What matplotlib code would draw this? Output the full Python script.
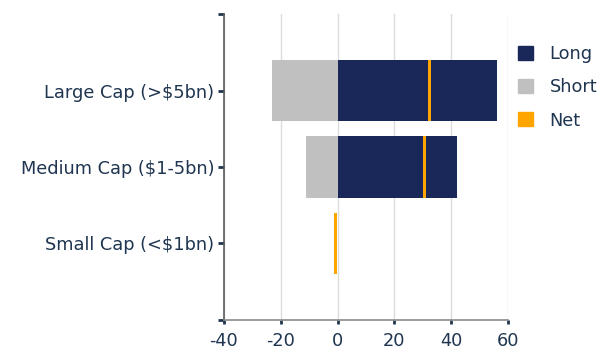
import matplotlib
matplotlib.use("Agg")
import matplotlib.pyplot as plt
from matplotlib.patches import Patch

categories = ["Large Cap (>$5bn)", "Medium Cap ($1-5bn)", "Small Cap (<$1bn)"]
long_vals = [56, 42, 0]
short_vals = [-23, -11, 0]
net_vals = [32.5, 30.6, -0.6]
xticks = [-40, -20, 0, 20, 40, 60]

NAVY = "#1a2859"
GREY = "#c0c0c0"
ORANGE = "#ffa500"
TEXT = "#1f3550"
SPINE = "#5a5a5a"
FS = 12.8

plt.rcParams["font.family"] = ["DejaVu Sans"]

fig = plt.figure(figsize=(6.06, 3.53), dpi=100)
ax = fig.add_axes([0.3696, 0.0935, 0.8383 - 0.3696, 0.9603 - 0.0935])

y = list(range(len(categories)))
h = 0.8
ax.barh(y, long_vals, height=h, color=NAVY, zorder=3)
ax.barh(y, short_vals, height=h, color=GREY, zorder=3)
net_w = 1.0
ax.barh(y, [net_w] * len(y), left=[n - net_w / 2 for n in net_vals], height=h,
        color=ORANGE, zorder=4)

ax.set_xlim(-40, 60)
ax.set_ylim(3, -1)
ax.set_xticks(xticks)
ax.set_xticklabels([str(t) for t in xticks])
ax.set_yticks([-1] + y + [3])
ax.set_yticklabels([""] + categories + [""])

ax.grid(axis="x", color="#dcdcdc", linewidth=1, zorder=0)
ax.grid(axis="y", visible=False)
for s in ["top", "right"]:
    ax.spines[s].set_visible(False)
ax.spines["left"].set_color(SPINE)
ax.spines["bottom"].set_color("#8a8a8a")
ax.spines["left"].set_linewidth(1.2)
ax.spines["bottom"].set_linewidth(1.2)
ax.tick_params(axis="y", length=4, width=2, color="#1f3550", labelsize=FS,
               labelcolor=TEXT, pad=3)
ax.tick_params(axis="x", length=3, width=2, color="#1f3550", labelsize=FS,
               labelcolor=TEXT, pad=6)

handles = [Patch(color=NAVY, label="Long"), Patch(color=GREY, label="Short"),
           Patch(color=ORANGE, label="Net")]
ax.legend(handles=handles, loc="upper left", bbox_to_anchor=(0.98, 0.95),
          frameon=False, fontsize=FS, labelcolor=TEXT, handlelength=0.85,
          handleheight=0.85, handletextpad=0.9, labelspacing=0.85)

fig.savefig("out.png", dpi=100)
